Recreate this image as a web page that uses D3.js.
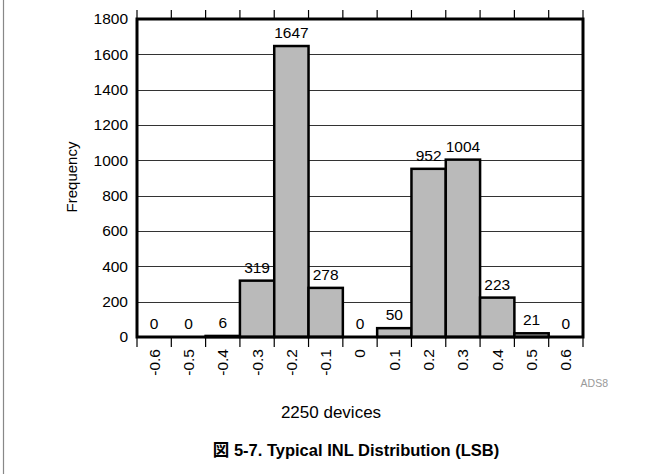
<!DOCTYPE html>
<html><head><meta charset="utf-8">
<script src="https://cdn.jsdelivr.net/npm/d3@7"></script>
<style>body{margin:0;background:#fff}svg{display:block;font-family:"Liberation Sans",Arial,Helvetica,sans-serif}</style>
</head><body><svg id="c" width="662" height="474"></svg>
<script>
const categories = ["-0.6","-0.5","-0.4","-0.3","-0.2","-0.1","0","0.1","0.2","0.3","0.4","0.5","0.6"];
const counts = [0,0,6,319,1647,278,0,50,952,1004,223,21,0];
const yTicks = [0,200,400,600,800,1000,1200,1400,1600,1800];
const yLabel = "Frequency";
const subtitle = "2250 devices";
const title = "図 5-7. Typical INL Distribution (LSB)";
const mark = "ADS8";

const svg = d3.select("#c");
const L=137, R=583, T=19, B=337;
const x = d3.scaleBand().domain(categories).range([L,R]).padding(0);
const y = d3.scaleLinear().domain([0,1800]).range([B,T]);
const FS = 15.5;

// page frame line
svg.append("line").attr("x1",3.5).attr("x2",3.5).attr("y1",0).attr("y2",474).attr("stroke","#888").attr("stroke-width",1.2);

// gridlines
svg.append("g").selectAll("line").data(yTicks.filter(d=>d>0&&d<1800)).join("line")
  .attr("x1",L).attr("x2",R).attr("y1",d=>Math.round(y(d))+0.5).attr("y2",d=>Math.round(y(d))+0.5)
  .attr("stroke","#333").attr("stroke-width",1.2);

// bars
svg.append("g").selectAll("rect").data(counts).join("rect")
  .attr("x",(d,i)=>x(categories[i])).attr("width",x.bandwidth())
  .attr("y",d=>y(d)).attr("height",d=>B-y(d))
  .attr("fill","#bababa").attr("stroke","#000").attr("stroke-width",2.5);

// bar value labels
svg.append("g").selectAll("text").data(counts).join("text")
  .attr("x",(d,i)=>x(categories[i])+x.bandwidth()/2).attr("y",d=>y(d)-8)
  .attr("text-anchor","middle").attr("font-size",FS).attr("fill","#000").text(d=>d);

// frame
svg.append("rect").attr("x",L).attr("y",T).attr("width",R-L).attr("height",B-T)
  .attr("fill","none").attr("stroke","#000").attr("stroke-width",3);

// top & bottom ticks at band edges
const edges = categories.map(c=>x(c)).concat([R]);
svg.append("g").selectAll("line").data(edges).join("line")
  .attr("x1",d=>d).attr("x2",d=>d).attr("y1",10).attr("y2",T).attr("stroke","#000").attr("stroke-width",1.2);
svg.append("g").selectAll("line").data(edges).join("line")
  .attr("x1",d=>d).attr("x2",d=>d).attr("y1",B).attr("y2",347).attr("stroke","#000").attr("stroke-width",1.2);

// y axis labels
const yAxis = d3.axisLeft(y).tickValues(yTicks).tickFormat(d3.format("d")).tickSize(0).tickPadding(9);
const gy = svg.append("g").attr("transform",`translate(${L},0)`).call(yAxis);
gy.select(".domain").remove();
gy.selectAll("text").attr("font-size",FS).attr("fill","#000").attr("font-family","Liberation Sans, Arial, sans-serif");

// x axis labels rotated
const xAxis = d3.axisBottom(x).tickSize(0).tickPadding(0);
const gx = svg.append("g").attr("transform",`translate(0,${B})`).call(xAxis);
gx.select(".domain").remove();
gx.selectAll("text").attr("font-size",FS).attr("fill","#000").attr("font-family","Liberation Sans, Arial, sans-serif")
  .attr("transform","rotate(-90)").attr("text-anchor","end").attr("x",-12).attr("y",0).attr("dy","0.35em");

// y label
svg.append("text").attr("transform","translate(77,177) rotate(-90)").attr("text-anchor","middle")
  .attr("font-size",15).attr("fill","#000").text(yLabel);

// watermark
svg.append("text").attr("x",608).attr("y",387).attr("text-anchor","end").attr("font-size",10.5)
  .attr("fill","#999").text(mark);

svg.append("text").attr("x",331).attr("y",418).attr("text-anchor","middle").attr("font-size",17).attr("fill","#000").text(subtitle);
svg.append("text").attr("x",356).attr("y",456).attr("text-anchor","middle").attr("font-size",16.5).attr("font-weight","bold")
  .attr("font-family","'Liberation Sans','Noto Sans CJK JP',Arial,sans-serif").attr("fill","#000").text(title);
</script></body></html>
